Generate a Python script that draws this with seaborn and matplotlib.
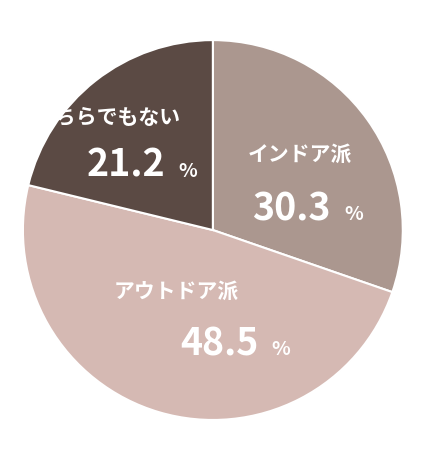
import matplotlib
matplotlib.use("Agg")
import matplotlib.pyplot as plt
import seaborn as sns

categories = ["インドア派", "アウトドア派", "どちらでもない"]
values = [30.3, 48.5, 21.2]
colors = ["#ab978f", "#d5b9b3", "#5b4a44"]

sns.set_theme(style="white")
plt.rcParams['font.family'] = ['Noto Sans CJK JP', 'DejaVu Sans']

fig = plt.figure(figsize=(4.3, 4.61), dpi=100)
ax = fig.add_axes([0.053, 0.089, 0.884, 0.824])
ax.pie(values, colors=colors, startangle=90, counterclock=False,
       wedgeprops=dict(edgecolor="white", linewidth=1.5))
ax.set_xlim(-1, 1); ax.set_ylim(-1, 1); ax.set_aspect('equal')

label_pos = [(0.46, 0.40), (-0.19, -0.32), (-0.55, 0.59)]
num_pos = [(0.62, 0.11), (0.24, -0.60), (-0.25, 0.34)]
for c, v, lp, npos in zip(categories, values, label_pos, num_pos):
    ax.text(lp[0], lp[1], c, color="white", fontsize=15, fontweight="bold",
            ha="center", va="center", clip_on=False)
    ax.text(npos[0], npos[1], f"{v}", color="white", fontsize=27, fontweight="bold",
            ha="right", va="center", clip_on=False)
    ax.text(npos[0] + 0.07, npos[1] - 0.03, "%", color="white", fontsize=14,
            fontweight="bold", ha="left", va="center", clip_on=False)

fig.savefig("out.png", dpi=100)
